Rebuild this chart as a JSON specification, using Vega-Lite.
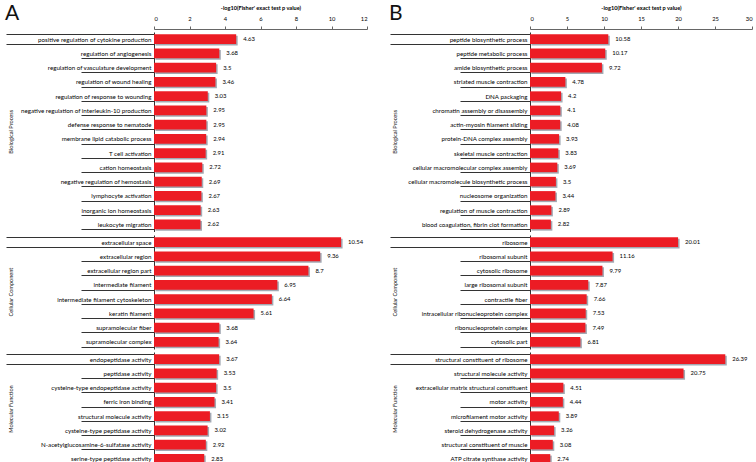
{
  "$schema": "https://vega.github.io/schema/vega-lite/v6.json",
  "padding": {"left": 5, "top": 3, "right": 2, "bottom": 0},
  "config": {
    "font": "Lato, sans-serif",
    "view": {"stroke": null},
    "axis": {"labelFont": "Lato, sans-serif", "titleFont": "Lato, sans-serif"},
    "header": {"labelFont": "Lato, sans-serif"}
  },
  "datasets": {
    "a": [
      {"cat": "Biological Process", "term": "positive regulation of cytokine production", "v": 4.63},
      {"cat": "Biological Process", "term": "regulation of angiogenesis", "v": 3.68},
      {"cat": "Biological Process", "term": "regulation of vasculature development", "v": 3.5},
      {"cat": "Biological Process", "term": "regulation of wound healing", "v": 3.46},
      {"cat": "Biological Process", "term": "regulation of response to wounding", "v": 3.03},
      {"cat": "Biological Process", "term": "negative regulation of interleukin-10 production", "v": 2.95},
      {"cat": "Biological Process", "term": "defense response to nematode", "v": 2.95},
      {"cat": "Biological Process", "term": "membrane lipid catabolic process", "v": 2.94},
      {"cat": "Biological Process", "term": "T cell activation", "v": 2.91},
      {"cat": "Biological Process", "term": "cation homeostasis", "v": 2.72},
      {"cat": "Biological Process", "term": "negative regulation of hemostasis", "v": 2.69},
      {"cat": "Biological Process", "term": "lymphocyte activation", "v": 2.67},
      {"cat": "Biological Process", "term": "inorganic ion homeostasis", "v": 2.63},
      {"cat": "Biological Process", "term": "leukocyte migration", "v": 2.62},
      {"cat": "Cellular Component", "term": "extracellular space", "v": 10.54},
      {"cat": "Cellular Component", "term": "extracellular region", "v": 9.36},
      {"cat": "Cellular Component", "term": "extracellular region part", "v": 8.7},
      {"cat": "Cellular Component", "term": "intermediate filament", "v": 6.95},
      {"cat": "Cellular Component", "term": "intermediate filament cytoskeleton", "v": 6.64},
      {"cat": "Cellular Component", "term": "keratin filament", "v": 5.61},
      {"cat": "Cellular Component", "term": "supramolecular fiber", "v": 3.68},
      {"cat": "Cellular Component", "term": "supramolecular complex", "v": 3.64},
      {"cat": "Molecular Function", "term": "endopeptidase activity", "v": 3.67},
      {"cat": "Molecular Function", "term": "peptidase activity", "v": 3.53},
      {"cat": "Molecular Function", "term": "cysteine-type endopeptidase activity", "v": 3.5},
      {"cat": "Molecular Function", "term": "ferric iron binding", "v": 3.41},
      {"cat": "Molecular Function", "term": "structural molecule activity", "v": 3.15},
      {"cat": "Molecular Function", "term": "cysteine-type peptidase activity", "v": 3.02},
      {"cat": "Molecular Function", "term": "N-acetylglucosamine-6-sulfatase activity", "v": 2.92},
      {"cat": "Molecular Function", "term": "serine-type peptidase activity", "v": 2.83}
    ],
    "b": [
      {"cat": "Biological Process", "term": "peptide biosynthetic process", "v": 10.58},
      {"cat": "Biological Process", "term": "peptide metabolic process", "v": 10.17},
      {"cat": "Biological Process", "term": "amide biosynthetic process", "v": 9.72},
      {"cat": "Biological Process", "term": "striated muscle contraction", "v": 4.78},
      {"cat": "Biological Process", "term": "DNA packaging", "v": 4.2},
      {"cat": "Biological Process", "term": "chromatin assembly or disassembly", "v": 4.1},
      {"cat": "Biological Process", "term": "actin-myosin filament sliding", "v": 4.08},
      {"cat": "Biological Process", "term": "protein-DNA complex assembly", "v": 3.93},
      {"cat": "Biological Process", "term": "skeletal muscle contraction", "v": 3.83},
      {"cat": "Biological Process", "term": "cellular macromolecular complex assembly", "v": 3.69},
      {"cat": "Biological Process", "term": "cellular macromolecule biosynthetic process", "v": 3.5},
      {"cat": "Biological Process", "term": "nucleosome organization", "v": 3.44},
      {"cat": "Biological Process", "term": "regulation of muscle contraction", "v": 2.89},
      {"cat": "Biological Process", "term": "blood coagulation, fibrin clot formation", "v": 2.82},
      {"cat": "Cellular Component", "term": "ribosome", "v": 20.01},
      {"cat": "Cellular Component", "term": "ribosomal subunit", "v": 11.16},
      {"cat": "Cellular Component", "term": "cytosolic ribosome", "v": 9.79},
      {"cat": "Cellular Component", "term": "large ribosomal subunit", "v": 7.87},
      {"cat": "Cellular Component", "term": "contractile fiber", "v": 7.66},
      {"cat": "Cellular Component", "term": "intracellular ribonucleoprotein complex", "v": 7.53},
      {"cat": "Cellular Component", "term": "ribonucleoprotein complex", "v": 7.49},
      {"cat": "Cellular Component", "term": "cytosolic part", "v": 6.81},
      {"cat": "Molecular Function", "term": "structural constituent of ribosome", "v": 26.39},
      {"cat": "Molecular Function", "term": "structural molecule activity", "v": 20.75},
      {"cat": "Molecular Function", "term": "extracellular matrix structural constituent", "v": 4.51},
      {"cat": "Molecular Function", "term": "motor activity", "v": 4.44},
      {"cat": "Molecular Function", "term": "microfilament motor activity", "v": 3.89},
      {"cat": "Molecular Function", "term": "steroid dehydrogenase activity", "v": 3.26},
      {"cat": "Molecular Function", "term": "structural constituent of muscle", "v": 3.08},
      {"cat": "Molecular Function", "term": "ATP citrate synthase activity", "v": 2.74}
    ]
  },
  "spacing": 21,
  "hconcat": [
    {
      "data": {"name": "a"},
      "title": {"text": "A", "anchor": "start", "frame": "bounds", "fontSize": 21, "fontWeight": "normal", "color": "#111", "dy": 23},
      "facet": {
        "row": {
          "field": "cat", "type": "nominal", "title": null,
          "sort": ["Biological Process", "Cellular Component", "Molecular Function"],
          "header": {"labelAngle": -90, "labelOrient": "left", "labelAnchor": "middle", "labelFontSize": 5.6, "labelColor": "#111", "labelPadding": -12}
        }
      },
      "spacing": 0,
      "resolve": {"scale": {"y": "independent"}},
      "spec": {
        "width": 213,
        "height": {"step": 14.25},
        "encoding": {
          "y": {
            "field": "term", "type": "nominal", "sort": null, "title": null,
            "scale": {"paddingInner": 0.33, "paddingOuter": 0.165},
            "axis": {
              "tickBand": "extent",
              "tickSize": {"condition": {"test": "datum.index === 0 || datum.index < 0", "value": 148}, "value": 73},
              "labelPadding": {"condition": {"test": "datum.index === 0", "value": -145}, "value": -70},
              "tickColor": "#333", "domainColor": "#333",
              "labelFontSize": 6.2, "labelColor": "#000", "labelLimit": 300
            }
          },
          "x": {
            "field": "v", "type": "quantitative",
            "scale": {"domain": [0, 12], "nice": false},
            "axis": {
              "orient": "top", "values": [0, 2, 4, 6, 8, 10, 12], "grid": false,
              "title": "-log10(Fisher' exact test p value)", "titleFontSize": 5.6, "titleFontWeight": "bold", "titleColor": "#000", "titlePadding": 5,
              "labelFontSize": 5.8, "labelColor": "#000", "labelPadding": 5, "tickSize": 3,
              "tickColor": "#666", "domainColor": "#666"
            }
          }
        },
        "layer": [
          {"mark": {"type": "bar", "color": "#a3a9b3", "xOffset": 1.5, "yOffset": 1.5}},
          {"mark": {"type": "bar", "color": "#EC1C24"}},
          {"mark": {"type": "text", "align": "left", "baseline": "middle", "dx": 7, "fontSize": 5.9, "color": "#000"}, "encoding": {"text": {"field": "v", "type": "quantitative"}}}
        ]
      }
    },
    {
      "data": {"name": "b"},
      "title": {"text": "B", "anchor": "start", "frame": "bounds", "fontSize": 21, "fontWeight": "normal", "color": "#111", "dy": 23},
      "facet": {
        "row": {
          "field": "cat", "type": "nominal", "title": null,
          "sort": ["Biological Process", "Cellular Component", "Molecular Function"],
          "header": {"labelAngle": -90, "labelOrient": "left", "labelAnchor": "middle", "labelFontSize": 5.6, "labelColor": "#111", "labelPadding": -12}
        }
      },
      "spacing": 0,
      "resolve": {"scale": {"y": "independent"}},
      "spec": {
        "width": 222,
        "height": {"step": 14.25},
        "encoding": {
          "y": {
            "field": "term", "type": "nominal", "sort": null, "title": null,
            "scale": {"paddingInner": 0.33, "paddingOuter": 0.165},
            "axis": {
              "tickBand": "extent",
              "tickSize": {"condition": {"test": "datum.index === 0 || datum.index < 0", "value": 140}, "value": 70},
              "labelPadding": {"condition": {"test": "datum.index === 0", "value": -137}, "value": -67},
              "tickColor": "#333", "domainColor": "#333",
              "labelFontSize": 6.2, "labelColor": "#000", "labelLimit": 300
            }
          },
          "x": {
            "field": "v", "type": "quantitative",
            "scale": {"domain": [0, 30], "nice": false},
            "axis": {
              "orient": "top", "values": [0, 5, 10, 15, 20, 25, 30], "grid": false,
              "title": "-log10(Fisher' exact test p value)", "titleFontSize": 5.6, "titleFontWeight": "bold", "titleColor": "#000", "titlePadding": 5,
              "labelFontSize": 5.8, "labelColor": "#000", "labelPadding": 5, "tickSize": 3,
              "tickColor": "#666", "domainColor": "#666"
            }
          }
        },
        "layer": [
          {"mark": {"type": "bar", "color": "#a3a9b3", "xOffset": 1.5, "yOffset": 1.5}},
          {"mark": {"type": "bar", "color": "#EC1C24"}},
          {"mark": {"type": "text", "align": "left", "baseline": "middle", "dx": 7, "fontSize": 5.9, "color": "#000"}, "encoding": {"text": {"field": "v", "type": "quantitative"}}}
        ]
      }
    }
  ]
}
